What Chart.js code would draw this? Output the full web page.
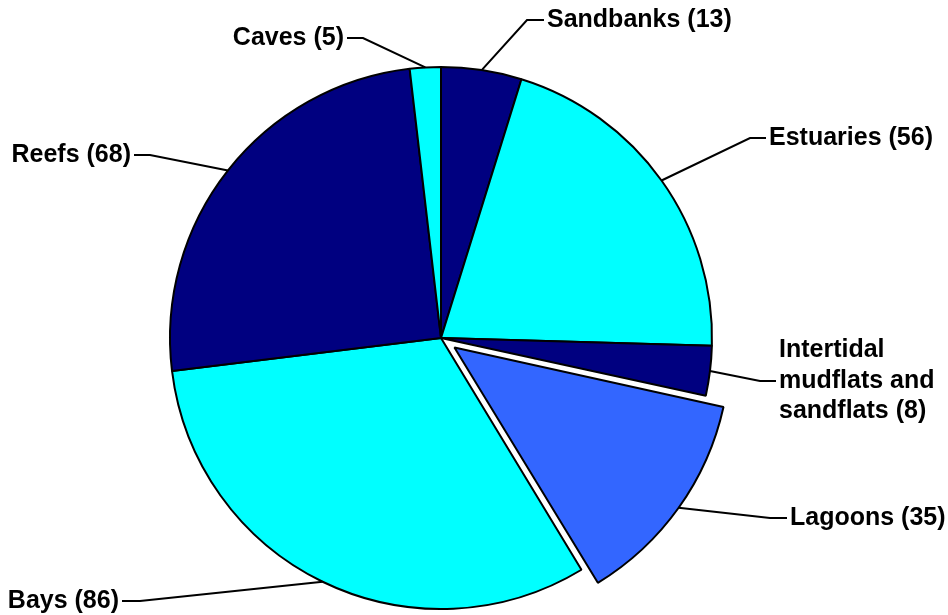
<!DOCTYPE html>
<html>
<head>
<meta charset="utf-8">
<title>Habitat types</title>
<script src="https://cdn.jsdelivr.net/npm/chart.js@4/dist/chart.umd.min.js"></script>
<style>
  html, body { margin: 0; padding: 0; background: #ffffff; }
  #wrap { width: 948px; height: 615px; }
</style>
</head>
<body>
<div id="wrap"><canvas id="pie" width="948" height="615"></canvas></div>
<script>
// Habitat categories and the number of sites in each
const habitats = ['Sandbanks', 'Estuaries', 'Intertidal mudflats and sandflats', 'Lagoons', 'Bays', 'Reefs', 'Caves'];
const siteCounts = [13, 56, 8, 35, 86, 68, 5];

// Slice fills and the pulled-out slice (Chart.js arc offset units)
const sliceColors = ['#000080', '#00FFFF', '#000080', '#3366FF', '#00FFFF', '#000080', '#00FFFF'];
const sliceOffsets = [0, 0, 0, 66, 0, 0, 0];

// Label placement: elbow of the leader line, text anchor x, alignment, wrapped lines
const labelLayout = [
  { elbowX: 527, elbowY: 20,  textX: 547, align: 'left',  lines: ['Sandbanks (13)'] },
  { elbowX: 750, elbowY: 138, textX: 769, align: 'left',  lines: ['Estuaries (56)'] },
  { elbowX: 760, elbowY: 381, textX: 779, align: 'left',  lines: ['Intertidal', 'mudflats and', 'sandflats (8)'] },
  { elbowX: 770, elbowY: 518, textX: 790, align: 'left',  lines: ['Lagoons (35)'] },
  { elbowX: 140, elbowY: 601, textX: 119, align: 'right', lines: ['Bays (86)'] },
  { elbowX: 150, elbowY: 155, textX: 131, align: 'right', lines: ['Reefs (68)'] },
  { elbowX: 363, elbowY: 38,  textX: 344, align: 'right', lines: ['Caves (5)'] }
];

// Pixel shift Chart.js applies to an arc with a given offset option
function drawnShift(offset, circumference) {
  const base = (offset || 0) / 4;
  const fix = 1 - Math.sin(Math.min(Math.PI, circumference || 0));
  return base * (1 + fix);
}

const leaderLabels = {
  id: 'leaderLabels',
  afterDatasetsDraw(chart) {
    const ctx = chart.ctx;
    const arcs = chart.getDatasetMeta(0).data;
    ctx.save();
    ctx.font = 'bold 25px "Liberation Sans", Arial, sans-serif';
    ctx.textBaseline = 'middle';
    ctx.fillStyle = '#000000';
    ctx.strokeStyle = '#000000';
    ctx.lineWidth = 2;
    arcs.forEach((arc, i) => {
      const p = arc.getProps(['x', 'y', 'startAngle', 'endAngle', 'outerRadius', 'circumference'], true);
      const mid = (p.startAngle + p.endAngle) / 2;
      const r = p.outerRadius + drawnShift(sliceOffsets[i], p.circumference);
      const ax = p.x + Math.cos(mid) * r;
      const ay = p.y + Math.sin(mid) * r;
      const L = labelLayout[i];
      const endX = L.align === 'left' ? L.textX - 3 : L.textX + 3;
      ctx.beginPath();
      ctx.moveTo(ax, ay);
      ctx.lineTo(L.elbowX, L.elbowY);
      ctx.lineTo(endX, L.elbowY);
      ctx.stroke();
      ctx.textAlign = L.align;
      const lh = 30.5;
      const y0 = L.elbowY - (L.lines.length - 1) * lh / 2;
      L.lines.forEach((t, k) => ctx.fillText(t, L.textX, y0 + k * lh));
    });
    ctx.restore();
  }
};

new Chart(document.getElementById('pie'), {
  type: 'pie',
  data: {
    labels: habitats,
    datasets: [{
      data: siteCounts,
      backgroundColor: sliceColors,
      offset: sliceOffsets,
      borderColor: '#000000',
      borderWidth: 2
    }]
  },
  options: {
    responsive: false,
    animation: false,
    radius: 271,
    layout: { padding: { top: 61, bottom: 0, left: 0, right: 66 } },
    plugins: {
      legend: { display: false },
      tooltip: { enabled: false }
    }
  },
  plugins: [leaderLabels]
});
</script>
</body>
</html>
